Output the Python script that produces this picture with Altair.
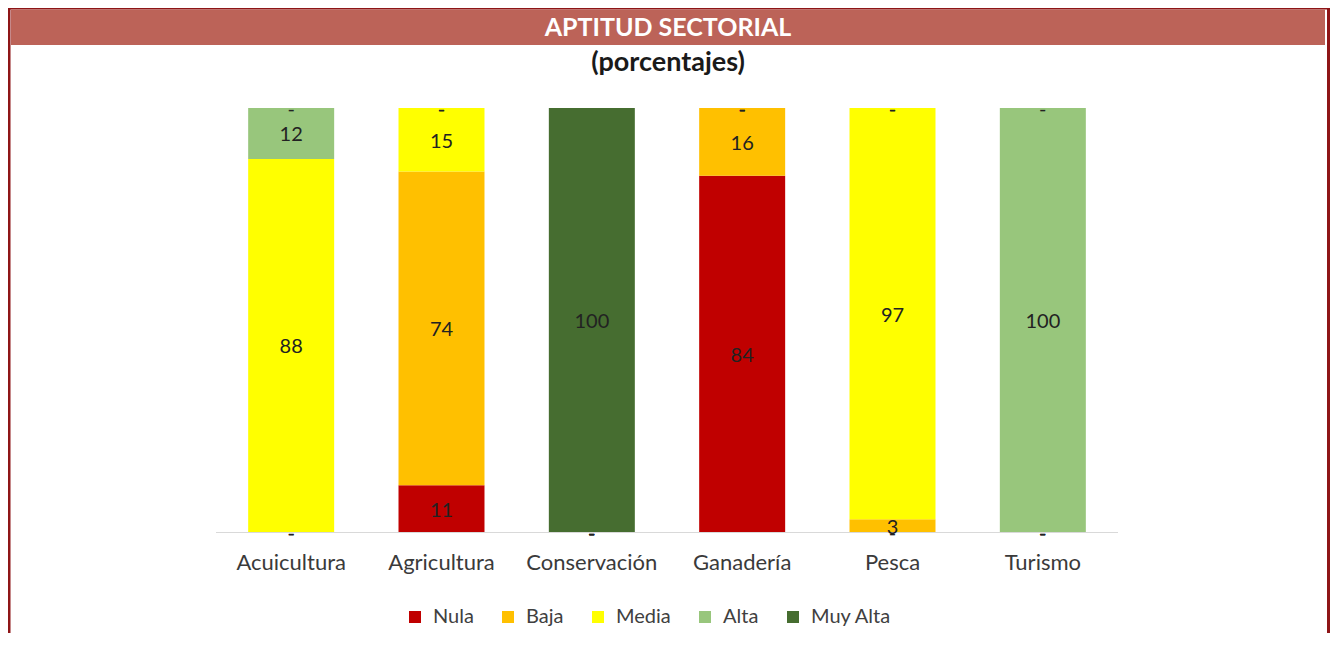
import altair as alt
import pandas as pd

# ---- data ----
categories = ["Acuicultura", "Agricultura", "Conservación", "Ganadería", "Pesca", "Turismo"]
series = ["Nula", "Baja", "Media", "Alta", "Muy Alta"]
nula = [0, 11, 0, 84, 0, 0]
baja = [0, 74, 0, 16, 3, 0]
media = [88, 15, 0, 0, 97, 0]
alta = [12, 0, 0, 0, 0, 100]
muy_alta = [0, 0, 100, 0, 0, 0]
colors = ["#C00000", "#FFC000", "#FFFF00", "#98C67C", "#466D30"]
title_text = "APTITUD SECTORIAL"
subtitle_text = "(porcentajes)"

values_by_series = [nula, baja, media, alta, muy_alta]
rows = []
for si, (s, vals) in enumerate(zip(series, values_by_series)):
    for c, v in zip(categories, vals):
        rows.append({"sector": c, "serie": s, "orden": si, "valor": v})
df = pd.DataFrame(rows)

FONT = "Lato"
W, H = 1322, 625

xscale = alt.Scale(domain=categories, range=[208, 1110], paddingInner=0.428, paddingOuter=0.214)
yscale = alt.Scale(domain=[0, 100], range=[524, 100], nice=False, zero=True)

one = alt.Data(values=[{"k": 1}])

# frame
frame_left = alt.Chart(one).mark_rect(color="#8E1517").encode(
    x=alt.value(0), x2=alt.value(2.5), y=alt.value(0), y2=alt.value(H))
frame_right = alt.Chart(one).mark_rect(color="#8E1517").encode(
    x=alt.value(1319), x2=alt.value(W), y=alt.value(0), y2=alt.value(H))
frame_top = alt.Chart(one).mark_rect(color="#8E1517").encode(
    x=alt.value(0), x2=alt.value(W), y=alt.value(0), y2=alt.value(1.5))
title_bar = alt.Chart(one).mark_rect(color="#BC6358").encode(
    x=alt.value(3), x2=alt.value(1317), y=alt.value(1.5), y2=alt.value(37))
title = alt.Chart(one).mark_text(font=FONT, fontSize=25, fontWeight="bold", color="white",
                                 baseline="middle", align="center").encode(
    x=alt.value(660), y=alt.value(19.5), text=alt.value(title_text))
subtitle = alt.Chart(one).mark_text(font=FONT, fontSize=27, fontWeight="bold", color="#1a1a1a",
                                    baseline="middle", align="center").encode(
    x=alt.value(660), y=alt.value(55), text=alt.value(subtitle_text))

axis_line = alt.Chart(one).mark_rule(color="#D9D9D9", strokeWidth=1.2).encode(
    x=alt.value(208), x2=alt.value(1110), y=alt.value(524.5))

base = alt.Chart(df).transform_stack(
    stack="valor", groupby=["sector"], as_=["y0", "y1"],
    sort=[alt.SortField("orden", order="ascending")])

bars = base.mark_bar().encode(
    x=alt.X("sector:N", scale=xscale, axis=None, sort=categories),
    y=alt.Y("y0:Q", scale=yscale, axis=None),
    y2="y1:Q",
    color=alt.Color("serie:N", scale=alt.Scale(domain=series, range=colors),
                    legend=alt.Legend(title=None, orient="none", legendX=397, legendY=599,
                                      direction="horizontal", columns=5,
                                      symbolType="square", symbolSize=144,
                                      symbolStrokeWidth=0, symbolOpacity=1,
                                      labelFont=FONT, labelFontSize=20, labelColor="#404040",
                                      labelOffset=8, columnPadding=24, padding=0)),
)

labels = base.transform_calculate(
    mid="(datum.y0 + datum.y1) / 2",
    lbl="datum.valor == 0 ? '-' : format(datum.valor, 'd')",
).mark_text(font=FONT, fontSize=20, color="#222222", baseline="middle", align="center", dy=2).encode(
    x=alt.X("sector:N", scale=xscale, axis=None, sort=categories),
    y=alt.Y("mid:Q", scale=yscale, axis=None),
    text="lbl:N",
)

cat_df = pd.DataFrame({"sector": categories})
cat_labels = alt.Chart(cat_df).mark_text(font=FONT, fontSize=22, color="#3A3A3A",
                                          baseline="middle", align="center").encode(
    x=alt.X("sector:N", scale=xscale, axis=None, sort=categories),
    y=alt.value(555),
    text="sector:N",
)

chart = alt.layer(
    frame_left, frame_right, frame_top, title_bar, title, subtitle,
    axis_line, bars, labels, cat_labels
).properties(
    width=W, height=H, padding=0, autosize=alt.AutoSizeParams(type="none")
).configure_view(stroke=None).configure(background="white")

chart.save("out.html", embed_options={"renderer": "svg", "actions": False})
